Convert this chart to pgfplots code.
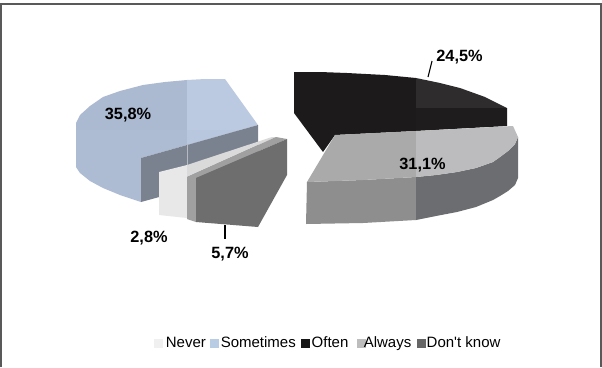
\documentclass[border=0pt]{standalone}
\usepackage{fontspec}
\setmainfont{Liberation Sans}[Ligatures=TeXOff]
\usepackage{pgfplots}
\pgfplotsset{compat=1.18}
\definecolor{nevr}{HTML}{F0F0F0}
\definecolor{smt}{HTML}{B8CCE4}
\definecolor{oftn}{HTML}{161616}
\definecolor{alw}{HTML}{BDBDBD}
\definecolor{dk}{HTML}{666666}
\definecolor{dkF}{HTML}{6E6E6E}
\definecolor{smtA}{HTML}{ABB9D1}
\definecolor{smtB}{HTML}{BBCAE1}
\definecolor{smtC}{HTML}{ADBBD3}
\definecolor{smtD}{HTML}{B8C7DE}
\definecolor{smtE}{HTML}{7B828F}
\definecolor{nevA}{HTML}{E8E8E8}
\definecolor{nevB}{HTML}{DADADA}
\definecolor{dkA}{HTML}{A0A0A0}
\definecolor{ofA}{HTML}{1C1A1B}
\definecolor{ofB}{HTML}{2E2C2D}
\definecolor{ofC}{HTML}{1E1C1D}
\definecolor{alA}{HTML}{8E8E8F}
\definecolor{alB}{HTML}{6C6D70}
\definecolor{alC}{HTML}{AAAAAA}
\definecolor{alD}{HTML}{BCBCBE}
\pgfplotsset{
  face/.style={fill=#1,draw=none,forget plot},
  swatch/.style={legend image code/.code={\fill[#1] (0pt,-4pt) rectangle (8pt,4pt);}},
}
\begin{document}
\begin{tikzpicture}[x=1pt,y=1pt]
\begin{axis}[
  scale only axis, width=602pt, height=367pt,
  xmin=0, xmax=602, ymin=0, ymax=367, y dir=reverse,
  hide axis, clip=false,
  legend columns=5,
  legend cell align=left,
  legend style={draw=none,fill=none,at={(axis cs:154,343.5)},anchor=west,
    font=\fontsize{15}{16}\selectfont,inner sep=0pt,outer sep=0pt,
    /tikz/column 1/.style={column sep=2pt},
    /tikz/column 2/.style={column sep=2.5pt},
    /tikz/column 3/.style={column sep=1pt},
    /tikz/column 4/.style={column sep=4pt},
    /tikz/column 5/.style={column sep=0.5pt},
    /tikz/column 6/.style={column sep=7.5pt},
    /tikz/column 7/.style={column sep=-3.5pt},
    /tikz/column 8/.style={column sep=4.5pt},
    /tikz/column 9/.style={column sep=-0.5pt},
    nodes={inner xsep=1.5pt,inner ysep=0pt,text height=11pt,text depth=3pt}},
]
% frame
\addplot[face=white] coordinates {(0,0)(602,0)(602,367)(0,367)};
\addplot[draw=black!65,line width=1.6pt,forget plot] coordinates {(1,367)(1,4)(601,4)(601,367)};

% Sometimes: top surface, outer wall, cut wall
\addplot[face=smtA] coordinates {(76,130)(76,123)(80,115)(90,106)(103,97)(120,91)(143,85)(165,82)(187,80)(187,130)};
\addplot[face=smtB] coordinates {(187,80)(205,79)(225,79)(258,125)(187,145)(187,130)};
\addplot[face=smtC] coordinates {(76,130)(187,130)(187,145)(141,158)(141,202)(120,195)(103,188)(90,181)(80,173)(76,167)};
\addplot[face=smtD] coordinates {(187,130)(240,130)(187,145)};
\addplot[face=smtE] coordinates {(141,158)(258,125)(258,170)(141,202)};
\addplot[draw=white,opacity=0.45,line width=0.6pt,forget plot] coordinates {(187,145)(187,165)};

% Never
\addplot[face=nevA] coordinates {(159,172)(187,165)(187,218)(159,215)};
\addplot[face=nevB] coordinates {(187,165)(272,137)(276,137)(187,177)};

% Don't know
\addplot[face=dkA] coordinates {(187,177)(276,137)(287,139)(196,178)(196,222)(187,219)};
\addplot[face=dkF] coordinates {(196,178)(287,139)(287,175)(258,227)(196,222)};

% Often
\addplot[face=ofA] coordinates {(294,72)(320,72)(347,73)(385,75)(416,78)(416,131)(335,135)(323,152)(294,113)};
\addplot[face=ofB] coordinates {(416,78)(440,83)(460,88)(485,97)(507,108)(416,108)};
\addplot[face=ofC] coordinates {(416,108)(507,108)(507,126)(416,131)};

% Always
\addplot[face=alA] coordinates {(307,182)(363,180)(416,177)(416,220)(363,223)(306,224)};
\addplot[face=alB] coordinates {(416,177)(436,175)(457,172)(476,168)(493,162)(500,157)(508,151)(515,144)(518,137)(518,178)(515,185)(508,191)(500,196)(493,200)(476,207)(457,212)(436,216)(416,220)};
\addplot[face=alC] coordinates {(335,135)(416,131)(416,177)(363,180)(307,182)};
\addplot[face=alD] coordinates {(416,131)(513,126)(518,137)(515,144)(508,151)(500,157)(493,162)(476,168)(457,172)(436,175)(416,177)};

% leader lines
\addplot[black,line width=1.1pt,forget plot] coordinates {(225,225)(225,239)};
\addplot[black,line width=1.1pt,forget plot] coordinates {(428,77)(432,61)};

% value labels
\addplot[only marks,mark=none,forget plot,
  nodes near coords={\fontsize{16.3}{18}\selectfont\bfseries\pgfplotspointmeta\%},
  nodes near coords align={center},
  point meta=explicit symbolic]
  table[meta=v] {
x y v
128 115 {35,8}
149 238 {2,8}
230 254 {5,7}
459.5 57.5 {24,5}
422.5 165 {31,1}
};

% legend
\addlegendimage{swatch=nevr}\addlegendentry{Never}
\addlegendimage{swatch=smt}\addlegendentry{Sometimes}
\addlegendimage{swatch=oftn}\addlegendentry{Often}
\addlegendimage{swatch=alw}\addlegendentry{Always}
\addlegendimage{swatch=dk}\addlegendentry{Don't know}
\end{axis}
\end{tikzpicture}
\end{document}
